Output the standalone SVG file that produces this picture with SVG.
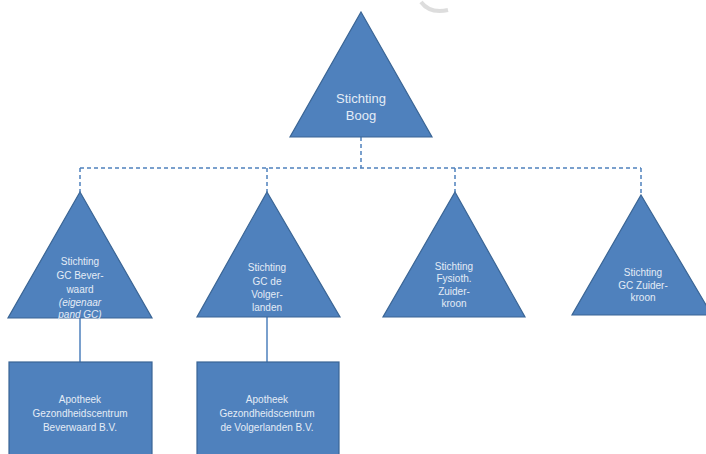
<svg xmlns="http://www.w3.org/2000/svg" width="706" height="454" viewBox="0 0 706 454">
<style>
.n{fill:#4f81bd;stroke:#3a6595;stroke-width:1.2}
.t{font-family:"Liberation Sans",Arial,sans-serif;fill:#e4ecf6;text-anchor:middle;font-size:10px}
.tb{font-size:13px}
.it{font-style:italic}
.d{stroke:#4f81bd;stroke-width:1.5;stroke-dasharray:4 3;fill:none}
.s{stroke:#4f81bd;stroke-width:1.5;fill:none}
</style>
<rect width="706" height="454" fill="#ffffff"/>
<path d="M421 2 Q430 14 448 10" fill="none" stroke="#d4d4d4" stroke-width="4" opacity="0.8"/>
<g id="connectors">
<path class="d" d="M361 137V168M80 168H641M80 168V192M267 168V192M455 168V192M641 168V195"/>
<path class="s" d="M80 317V362M267 317V362"/>
</g>
<g id="boog">
<polygon class="n" points="361,12 432,137 290,137"/>
<text class="t tb" x="361" y="103">Stichting</text>
<text class="t tb" x="361" y="120">Boog</text>
</g>
<g id="beverwaard">
<polygon class="n" points="80,192 152,318 8,318"/>
<text class="t" x="80" y="265">Stichting</text>
<text class="t" x="80" y="279">GC Bever-</text>
<text class="t" x="80" y="293">waard</text>
<text class="t it" x="80" y="306">(eigenaar</text>
<text class="t it" x="80" y="318">pand GC)</text>
</g>
<g id="volgerlanden">
<polygon class="n" points="267,192 340,317 197,317"/>
<text class="t" x="267" y="271">Stichting</text>
<text class="t" x="267" y="285">GC de</text>
<text class="t" x="267" y="298">Volger-</text>
<text class="t" x="267" y="311">landen</text>
</g>
<g id="fysioth">
<polygon class="n" points="455,192 525,317 383,317"/>
<text class="t" x="454" y="270">Stichting</text>
<text class="t" x="454" y="282">Fysioth.</text>
<text class="t" x="454" y="295">Zuider-</text>
<text class="t" x="454" y="307">kroon</text>
</g>
<g id="zuiderkroon">
<polygon class="n" points="641,195 712,315 572,315"/>
<text class="t" x="643" y="276">Stichting</text>
<text class="t" x="643" y="289">GC Zuider-</text>
<text class="t" x="643" y="301">kroon</text>
</g>
<g id="apotheek-beverwaard">
<rect class="n" x="9" y="362" width="143" height="100"/>
<text class="t" x="80" y="403">Apotheek</text>
<text class="t" x="80" y="417">Gezondheidscentrum</text>
<text class="t" x="80" y="431">Beverwaard B.V.</text>
</g>
<g id="apotheek-volgerlanden">
<rect class="n" x="197" y="362" width="142" height="100"/>
<text class="t" x="267" y="403">Apotheek</text>
<text class="t" x="267" y="417">Gezondheidscentrum</text>
<text class="t" x="267" y="431">de Volgerlanden B.V.</text>
</g>
</svg>
